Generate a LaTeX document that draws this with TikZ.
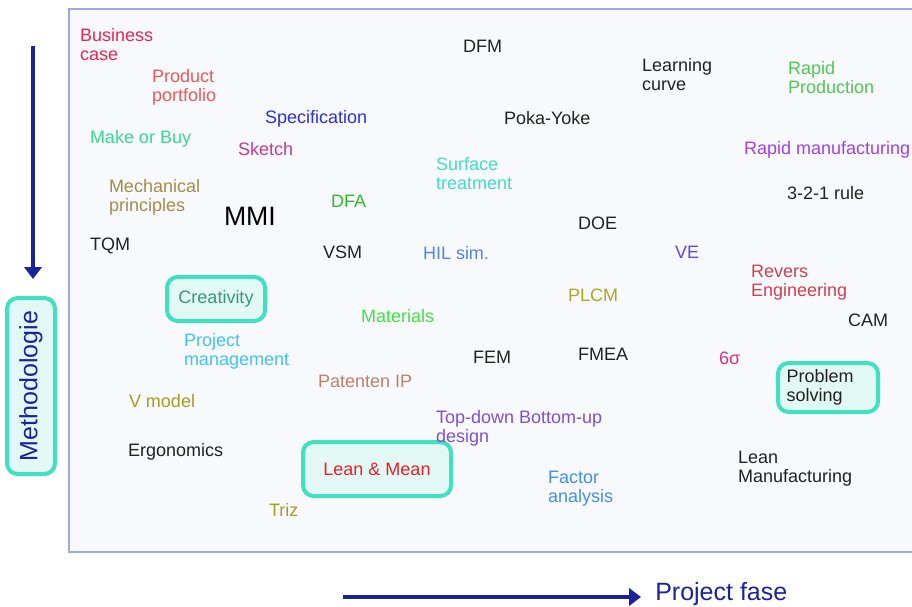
\documentclass[tikz,border=0pt]{standalone}
\usepackage{fontspec}
\setmainfont{Liberation Sans}
\usetikzlibrary{arrows.meta}
\definecolor{navy}{HTML}{1A239C}
\definecolor{framecol}{HTML}{A0A8E8}
\definecolor{framefill}{HTML}{F8F9FD}
\definecolor{boxline}{HTML}{40E0C0}
\definecolor{boxfill}{HTML}{E2F8F4}
\definecolor{dark}{HTML}{222222}
\definecolor{bizred}{HTML}{EC2450}
\definecolor{prodred}{HTML}{F05858}
\definecolor{specblue}{HTML}{2E2EE0}
\definecolor{mobgreen}{HTML}{38D890}
\definecolor{sketchcol}{HTML}{C83890}
\definecolor{mechcol}{HTML}{A88A48}
\definecolor{dfacol}{HTML}{30B830}
\definecolor{hilcol}{HTML}{4C86E8}
\definecolor{surfcol}{HTML}{40DCC8}
\definecolor{rapidprod}{HTML}{50C850}
\definecolor{rapidman}{HTML}{A040E8}
\definecolor{vecol}{HTML}{6448D8}
\definecolor{reverscol}{HTML}{D04050}
\definecolor{matcol}{HTML}{44E044}
\definecolor{projcol}{HTML}{40C4F4}
\definecolor{patcol}{HTML}{C08064}
\definecolor{olivecol}{HTML}{A0A020}
\definecolor{topcol}{HTML}{8050D0}
\definecolor{plcmcol}{HTML}{A8A820}
\definecolor{sigmacol}{HTML}{D83080}
\definecolor{factorcol}{HTML}{4090E8}
\definecolor{creacol}{HTML}{349A7A}
\definecolor{leanred}{HTML}{E82028}
\tikzset{
  lbl/.style={anchor=base west, inner sep=0pt, outer sep=0pt, align=left,
    font=\fontsize{13.5}{14.25}\selectfont},
  hbox/.style={draw=boxline, line width=3pt, fill=boxfill, rounded corners=8pt,
    inner sep=0pt, align=left, font=\fontsize{13.5}{14.25}\selectfont},
  axisarrow/.style={draw=navy, line width=2.3pt, -{Triangle[length=9pt,width=13pt]}}
}
\begin{document}
\begin{tikzpicture}[x=0.75pt,y=-0.75pt]
\useasboundingbox (0,0) rectangle (912,606);
\clip (0,0) rectangle (912,606);
% frame
\draw[draw=framecol, fill=framefill, line width=1.5pt] (69,9) rectangle (940,552);
% axes
\coordinate (va) at (33,46);
\coordinate (vb) at (33,279);
\draw[axisarrow] (va) -- (vb);
\coordinate (ha) at (343,597);
\coordinate (hb) at (641,597);
\draw[axisarrow] (ha) -- (hb);
\node[hbox, minimum width=132pt, minimum height=36pt, rotate=90, text=navy,
  font=\fontsize{18.75}{20}\selectfont, align=center] (meth) at (31,386) {Methodologie};
\node[anchor=base west, inner sep=0pt, text=navy, font=\fontsize{18.75}{20}\selectfont] (pf) at (655,600) {Project fase};
% highlighted boxes
\node[hbox, minimum width=73.5pt, minimum height=33pt, text=creacol, align=center] (crea) at (216,299) {Creativity};
\node[hbox, minimum width=111pt, minimum height=40.5pt, text=leanred, align=center] (lean) at (377,469) {Lean \& Mean};
\node[hbox, minimum width=75pt, minimum height=36.75pt, text=dark, text width=62pt] (prob) at (828,387.5) {Problem\\solving};
% labels (anchor = baseline of the last line)
\node[lbl, text=bizred] (biz) at (80,61) {Business\\case};
\node[lbl, text=prodred] (prod) at (152,102) {Product\\portfolio};
\node[lbl, text=specblue] (spec) at (265,123) {Specification};
\node[lbl, text=mobgreen] (mob) at (90,143) {Make or Buy};
\node[lbl, text=sketchcol] (sketch) at (238,155) {Sketch};
\node[lbl, text=mechcol] (mech) at (109,211) {Mechanical\\principles};
\node[lbl, text=black, font=\fontsize{20}{22}\selectfont] (mmi) at (224,225) {MMI};
\node[lbl, text=dfacol] (dfa) at (331,207) {DFA};
\node[lbl, text=dark] (tqm) at (90,250) {TQM};
\node[lbl, text=dark] (vsm) at (323,258) {VSM};
\node[lbl, text=hilcol] (hil) at (423,259) {HIL sim.};
\node[lbl, text=surfcol] (surf) at (436,189) {Surface\\treatment};
\node[lbl, text=dark] (dfm) at (463,53) {DFM};
\node[lbl, text=dark] (learn) at (642,91) {Learning\\curve};
\node[lbl, text=rapidprod] (rprod) at (788,94) {Rapid\\Production};
\node[lbl, text=dark] (poka) at (504,124) {Poka-Yoke};
\node[lbl, text=rapidman] (rman) at (744,154) {Rapid manufacturing};
\node[lbl, text=dark] (rule) at (787,199) {3-2-1 rule};
\node[lbl, text=dark] (doe) at (578,229) {DOE};
\node[lbl, text=vecol] (ve) at (675,258) {VE};
\node[lbl, text=reverscol] (rev) at (751,296) {Revers\\Engineering};
\node[lbl, text=matcol] (mat) at (361,322) {Materials};
\node[lbl, text=projcol] (proj) at (184,365) {Project\\management};
\node[lbl, text=patcol] (pat) at (318,387) {Patenten IP};
\node[lbl, text=olivecol] (vmod) at (129,407) {V model};
\node[lbl, text=dark] (ergo) at (128,456) {Ergonomics};
\node[lbl, text=olivecol] (triz) at (269,516) {Triz};
\node[lbl, text=topcol] (top) at (436,442) {Top-down Bottom-up\\design};
\node[lbl, text=plcmcol] (plcm) at (568,301) {PLCM};
\node[lbl, text=dark] (cam) at (848,326) {CAM};
\node[lbl, text=dark] (fem) at (473,363) {FEM};
\node[lbl, text=dark] (fmea) at (578,360) {FMEA};
\node[lbl, text=sigmacol] (sig) at (719,364) {6σ};
\node[lbl, text=factorcol] (fac) at (548,502) {Factor\\analysis};
\node[lbl, text=dark] (leanm) at (738,482) {Lean\\Manufacturing};
\end{tikzpicture}
\end{document}
